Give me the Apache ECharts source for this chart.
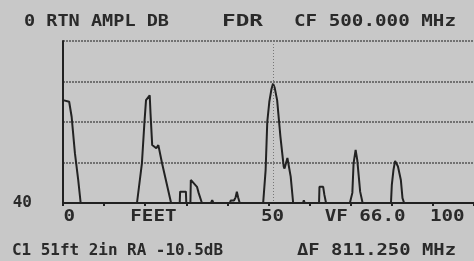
<!DOCTYPE html>
<html>
<head>
<meta charset="utf-8">
<script src="https://cdn.jsdelivr.net/npm/echarts@6/dist/echarts.min.js"></script>
<style>
  html, body { margin: 0; padding: 0; background: #c8c8c8; }
  #chart { width: 474px; height: 261px; }
</style>
</head>
<body>
<div id="chart"></div>
<script>
// trace: distance (feet) vs return loss (dB)
var feet = [0, 1.5, 2.1, 2.9, 3.7, 4.3,
  18.0, 19.2, 19.8, 20.2, 20.6, 21.1, 21.3, 21.7, 22.7, 23.2, 24.1, 25.4, 26.3,
  28.4, 28.5, 29.9, 30.0,
  31.0, 31.1, 32.6, 33.0, 33.8,
  36.0, 36.3, 36.6,
  40.6, 40.8, 41.6, 42.0, 42.3, 42.6, 43.0,
  48.7, 49.3, 49.7, 50.2, 50.7, 51.1, 51.5, 52.1, 52.9, 53.7, 53.9, 54.6, 55.4, 56.0,
  58.4, 58.6, 58.8,
  62.3, 62.4, 63.3, 63.6, 64.0,
  69.8, 70.4, 70.7, 71.2, 71.6, 72.3, 72.9,
  79.8, 80.0, 80.4, 80.8, 81.5, 82.2, 82.6, 83.0,
  100];
var returnDb = [14.6, 15, 18.7, 27.7, 34.3, 40,
  40, 30.2, 20.3, 14.6, 14.2, 13.4, 18, 25.7, 26.5, 25.7, 30.2, 36, 40,
  40, 37.2, 37.2, 40,
  40, 34.3, 36, 37.5, 40,
  40, 39.3, 40,
  40, 39.4, 39.4, 38.6, 37.2, 38.6, 40,
  40, 31.9, 20, 15, 12, 10.5, 11.5, 14.6, 23.6, 31, 31.5, 28.9, 33.5, 40,
  40, 39.3, 40,
  40, 36, 36, 38, 40,
  40, 37.5, 30.2, 26.9, 29.4, 37.2, 40,
  40, 35.6, 31.9, 29.6, 31, 34.3, 38.8, 40,
  40];
var cursorFeet = 51 + 2 / 12;

var xTickLabels = ['0', 'FEET', '50', 'VF 66.0', '100'];
var xTickAt = [1.5, 22, 51, 73.5, 93.5];
var yTickLabels = { 40: '40' };

var headerTexts = ['0 RTN AMPL DB', 'FDR', 'CF 500.000 MHz'];
var footerTexts = ['C1 51ft 2in RA -10.5dB', '\u0394F 811.250 MHz'];

var FONT = 'bold 16px "DejaVu Sans Mono"';
var INK = '#2a2a2a';

var points = feet.map(function (f, i) { return [f, returnDb[i]]; });

var chart = echarts.init(document.getElementById('chart'));

var option = {
  backgroundColor: '#c8c8c8',
  animation: false,
  grid: { left: 63, right: 0, top: 41, bottom: 58 },
  xAxis: {
    type: 'value',
    min: 0,
    max: 100,
    interval: 10,
    axisLine: { show: true, onZero: false, lineStyle: { color: '#222', width: 2 } },
    axisTick: { show: true, length: 3, lineStyle: { color: '#222', width: 2 } },
    axisLabel: { show: false },
    splitLine: { show: false }
  },
  yAxis: {
    type: 'value',
    inverse: true,
    min: 0,
    max: 40,
    interval: 10,
    axisLine: { show: true, lineStyle: { color: '#222', width: 2 } },
    axisTick: { show: false },
    axisLabel: {
      margin: 31,
      color: INK,
      fontFamily: 'DejaVu Sans Mono',
      fontWeight: 'bold',
      fontSize: 16,
      formatter: function (v) { return yTickLabels[v] || ''; }
    },
    splitLine: { show: true, lineStyle: { color: '#555', width: 1.5, type: [2, 1] } }
  },
  series: [{
    type: 'line',
    data: points,
    symbol: 'none',
    lineStyle: { color: '#222', width: 2 },
    markLine: {
      silent: true,
      symbol: 'none',
      label: { show: false },
      lineStyle: { color: '#777', width: 1, type: [1, 2] },
      data: [{ xAxis: cursorFeet }]
    }
  }]
};
chart.setOption(option);

// canvas text measuring so the LCD lettering can be stretched to its width
var ctx = document.createElement('canvas').getContext('2d');
function textWidth(t) { ctx.font = FONT; return ctx.measureText(t).width; }

function stretched(t, left, right, cy) {
  return {
    type: 'group', x: left, y: cy, scaleX: (right - left) / textWidth(t),
    children: [{ type: 'text', style: { text: t, font: FONT, fill: INK, align: 'left', verticalAlign: 'middle' } }]
  };
}

var boxes = [
  [headerTexts[0], 24, 169, 22],
  [headerTexts[1], 222, 263, 22],
  [headerTexts[2], 294, 456, 22],
  [footerTexts[0], 12, 223, 251],
  [footerTexts[1], 297, 456, 251]
];
var els = boxes.map(function (b) { return stretched(b[0], b[1], b[2], b[3]); });

xTickLabels.forEach(function (t, i) {
  var cx = chart.convertToPixel({ xAxisIndex: 0 }, xTickAt[i]);
  var s = 1.2;
  els.push({
    type: 'group', x: cx - textWidth(t) * s / 2, y: 217, scaleX: s,
    children: [{ type: 'text', style: { text: t, font: FONT, fill: INK, align: 'left', verticalAlign: 'middle' } }]
  });
});

chart.setOption({ graphic: { elements: els } });
</script>
</body>
</html>
